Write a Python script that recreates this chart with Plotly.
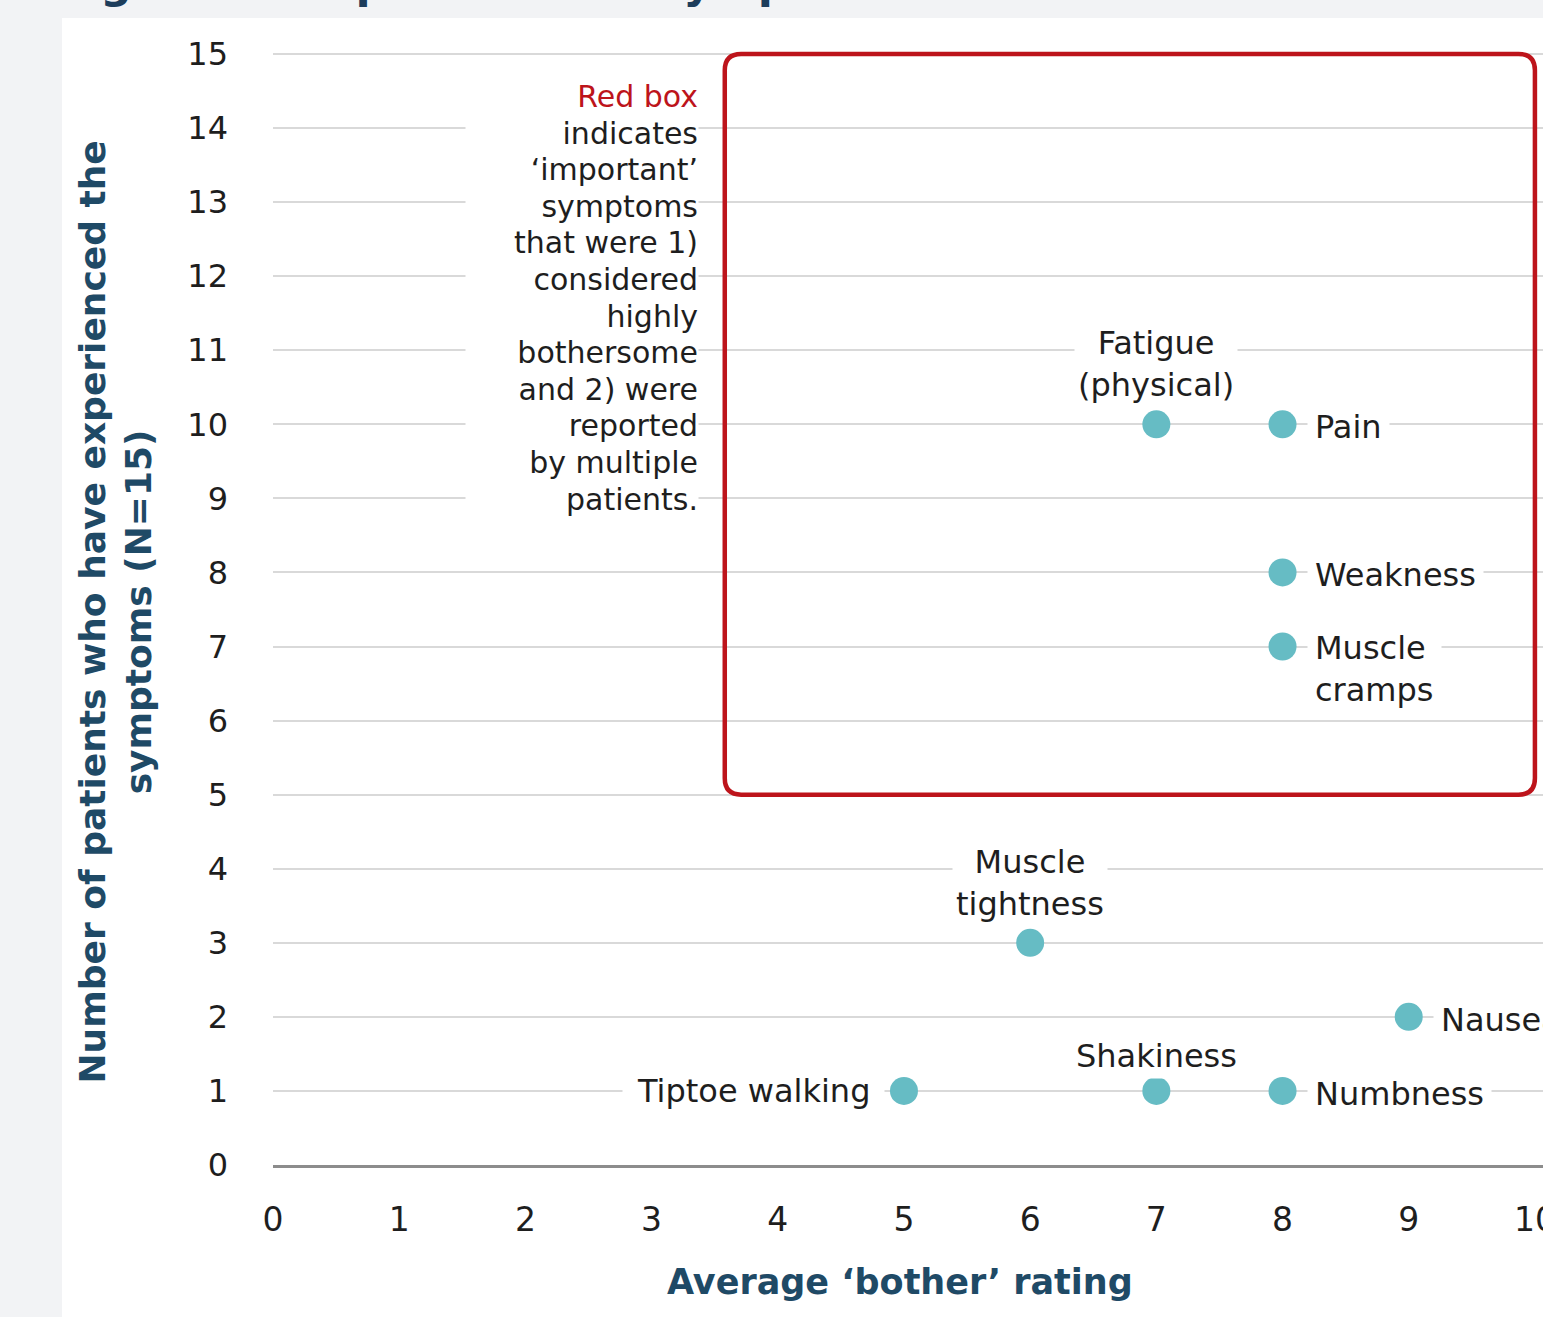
import plotly.graph_objects as go

# ---------------- data ----------------
symptoms = ["Fatigue (physical)", "Pain", "Weakness", "Muscle cramps",
            "Muscle tightness", "Nausea", "Shakiness", "Numbness", "Tiptoe walking"]
symptom_labels = ["Fatigue<br>(physical)", "Pain", "Weakness", "Muscle<br>cramps",
                  "Muscle<br>tightness", "Nausea", "Shakiness", "Numbness", "Tiptoe walking"]
avg_bother = [7, 8, 8, 8, 6, 9, 7, 8, 5]
n_patients = [10, 10, 8, 7, 3, 2, 1, 1, 1]

x_ticks = [0, 1, 2, 3, 4, 5, 6, 7, 8, 9, 10]
y_ticks = [0, 1, 2, 3, 4, 5, 6, 7, 8, 9, 10, 11, 12, 13, 14, 15]

important_bother = [3.58, 10]     # red box x-extent
important_patients = [5, 15]      # red box y-extent

note_lines = ["Red box", "indicates", "\u2018important\u2019", "symptoms", "that were 1)",
              "considered", "highly", "bothersome", "and 2) were", "reported",
              "by multiple", "patients."]

title_text = "Figure 3: Importance of symptoms"
x_title = "Average \u2018bother\u2019 rating"
y_title = "Number of patients who have experienced the<br>symptoms (N=15)"

# ---------------- styling ----------------
FONT = "DejaVu Sans"
NAVY = "#1f4a66"
TEAL = "#66bcc4"
RED = "#bd141b"
TXT = "#1e1e1e"
GRID = "#d9d9d9"

label_side = {"Fatigue (physical)": "top", "Pain": "right", "Weakness": "right",
              "Muscle cramps": "right2", "Muscle tightness": "top", "Nausea": "right",
              "Shakiness": "top1", "Numbness": "right", "Tiptoe walking": "left"}

fig = go.Figure()

fig.add_trace(go.Scatter(
    x=avg_bother, y=n_patients, mode="markers",
    marker=dict(size=28, color=TEAL, line=dict(width=0)),
    text=symptoms, hoverinfo="text", cliponaxis=False, showlegend=False))

annotations = []
LBL = 32
for name, lab, xv, yv in zip(symptoms, symptom_labels, avg_bother, n_patients):
    side = label_side[name]
    base = dict(x=xv, y=yv, xref="x", yref="y", text=lab, showarrow=False,
                font=dict(family=FONT, size=LBL, color=TXT), bgcolor="white")
    if side == "right":
        base.update(xanchor="left", yanchor="middle", xshift=24, yshift=-3, borderpad=7, align="left")
    elif side == "right2":
        base.update(xanchor="left", yanchor="top", xshift=24, yshift=26, borderpad=7, align="left")
    elif side == "left":
        base.update(xanchor="right", yanchor="middle", xshift=-19, yshift=0, borderpad=14, align="right")
    elif side == "top1":
        base.update(xanchor="center", yanchor="bottom", xshift=0, yshift=12, borderpad=3, align="center")
    else:
        base.update(xanchor="center", yanchor="bottom", xshift=0, yshift=16, borderpad=3, align="center")
    annotations.append(base)

# explanatory note beside the red box (one annotation per line for tight line spacing)
for i, line in enumerate(note_lines):
    annotations.append(dict(
        x=important_bother[0], y=important_patients[1], xref="x", yref="y",
        text=line, showarrow=False, xanchor="right", yanchor="top",
        xshift=-26, yshift=-(24 + i * 36.6), width=232, align="right",
        bgcolor="white", borderpad=0,
        font=dict(family=FONT, size=30, color=RED if i == 0 else TXT)))

# axis titles
annotations.append(dict(
    x=5, y=0, xref="x", yref="paper", text=x_title, showarrow=False,
    xanchor="center", yanchor="middle", xshift=-4, yshift=-117,
    font=dict(family=FONT, size=35, color=NAVY, weight="bold")))
annotations.append(dict(
    x=-0.1236, y=7.5, xref="paper", yref="y", text=y_title, showarrow=False,
    xanchor="center", yanchor="middle", textangle=-90, yshift=-3,
    font=dict(family=FONT, size=36, color=NAVY, weight="bold")))

# cropped figure title (only its descenders show above the card)
annotations.append(dict(
    x=-0.1724, y=1, xref="paper", yref="paper", text=title_text, showarrow=False,
    xanchor="left", yanchor="bottom", yshift=42, borderpad=0,
    font=dict(family=FONT, size=44, color="#1d3d5b", weight="bold")))

# red box with rounded corners
x0, x1 = important_bother
y0, y1 = important_patients
rx, ry = 0.13, 0.22
box_path = (f"M {x0+rx},{y1} L {x1-rx},{y1} Q {x1},{y1} {x1},{y1-ry} "
            f"L {x1},{y0+ry} Q {x1},{y0} {x1-rx},{y0} L {x0+rx},{y0} "
            f"Q {x0},{y0} {x0},{y0+ry} L {x0},{y1-ry} Q {x0},{y1} {x0+rx},{y1} Z")

shapes = [
    dict(type="rect", xref="paper", yref="paper", x0=-0.16614, x1=1.02, y0=-0.2, y1=1.0296,
         fillcolor="white", line=dict(width=0), layer="below"),
    dict(type="path", xref="x", yref="y", path=box_path,
         line=dict(color=RED, width=4.5), fillcolor="rgba(0,0,0,0)", layer="above"),
]

fig.update_layout(
    width=1543, height=1317,
    margin=dict(l=273, r=0, t=51, b=152, autoexpand=False),
    paper_bgcolor="#f2f3f5", plot_bgcolor="rgba(0,0,0,0)",
    font=dict(family=FONT, color=TXT),
    annotations=annotations, shapes=shapes, showlegend=False,
    xaxis=dict(range=[0, 10.064], tickvals=x_ticks, ticktext=[str(v) for v in x_ticks],
               showgrid=False, zeroline=False, showline=True, linecolor="#8c8c8c", linewidth=3,
               ticks="", ticklabelstandoff=23, ticklabeloverflow="allow", automargin=False,
               tickfont=dict(family=FONT, size=33, color=TXT), fixedrange=True),
    yaxis=dict(range=[0, 15.04], tickvals=y_ticks, ticktext=[str(v) for v in y_ticks],
               showgrid=True, gridcolor=GRID, gridwidth=2, zeroline=False, showline=False,
               ticks="", ticklabelstandoff=44, automargin=False,
               tickfont=dict(family=FONT, size=32, color=TXT), fixedrange=True),
)

fig.write_html("out.html", config={"displayModeBar": False},
               post_script="document.body.style.margin='0';document.body.style.background='#f2f3f5';")
